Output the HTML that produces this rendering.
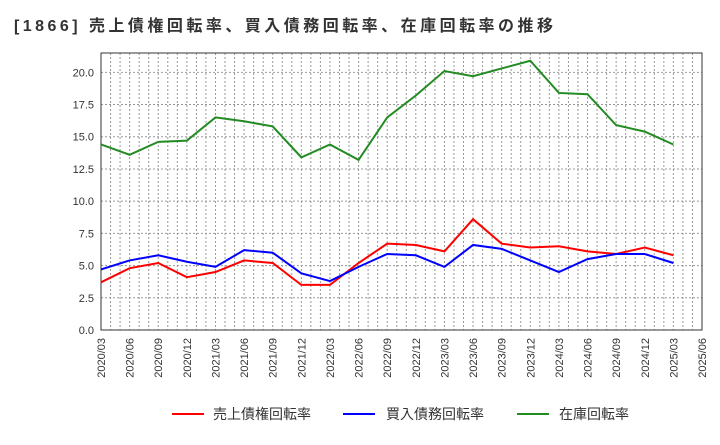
<!DOCTYPE html>
<html><head><meta charset="utf-8"><style>
body{margin:0;background:#fff;font-family:"Liberation Sans","Noto Sans CJK JP",sans-serif}
</style></head><body>
<svg id="c" width="720" height="440" xmlns="http://www.w3.org/2000/svg">
<text x="14" y="31" font-size="16" font-weight="bold" fill="#333" textLength="539" lengthAdjust="spacing" font-family="Liberation Sans, Noto Sans CJK JP, sans-serif">[1866]  売上債権回転率、買入債務回転率、在庫回転率の推移</text>
<g id="grid"></g><g id="axes"></g><g id="lines"></g>
<g id="legend" font-size="14" fill="#333" font-family="Liberation Sans, Noto Sans CJK JP, sans-serif">
<g><line x1="172" y1="414" x2="204" y2="414" stroke="#ff0000" stroke-width="2"/><text x="213" y="419">売上債権回転率</text></g>
<g><line x1="343" y1="414" x2="375" y2="414" stroke="#0000ff" stroke-width="2"/><text x="386" y="419">買入債務回転率</text></g>
<g><line x1="517" y1="414" x2="549" y2="414" stroke="#228b22" stroke-width="2"/><text x="559" y="419">在庫回転率</text></g>
</g>
</svg>
<script>
const categories=["2020/03","2020/06","2020/09","2020/12","2021/03","2021/06","2021/09","2021/12","2022/03","2022/06","2022/09","2022/12","2023/03","2023/06","2023/09","2023/12","2024/03","2024/06","2024/09","2024/12","2025/03","2025/06"];
const receivables=[3.7,4.8,5.2,4.1,4.5,5.4,5.2,3.5,3.5,5.2,6.7,6.6,6.1,8.6,6.7,6.4,6.5,6.1,5.9,6.4,5.8];
const payables=[4.7,5.4,5.8,5.3,4.9,6.2,6.0,4.4,3.8,4.9,5.9,5.8,4.9,6.6,6.3,5.4,4.5,5.5,5.9,5.9,5.2];
const inventory=[14.4,13.6,14.6,14.7,16.5,16.2,15.8,13.4,14.4,13.2,16.5,18.2,20.1,19.7,20.3,20.9,18.4,18.3,15.9,15.4,14.4];
const yTicks=[0,2.5,5,7.5,10,12.5,15,17.5,20];
const L=101,R=702,T=53,B=330,YMAX=21.5;
const xs=i=>L+(R-L)*i/(categories.length-1);
const ys=v=>B-(B-T)*v/YMAX;
const NS="http://www.w3.org/2000/svg";
function mk(t,a,p){const e=document.createElementNS(NS,t);for(const k in a)e.setAttribute(k,a[k]);p.appendChild(e);return e;}
const grid=document.getElementById('grid'),axes=document.getElementById('axes'),lines=document.getElementById('lines');
for(let m=1;m<(categories.length-1)*3;m++){const x=L+(R-L)*m/((categories.length-1)*3);
 const g=mk('line',{x1:x,x2:x,y1:T,y2:B,stroke:'#999','stroke-dasharray':'2,2','stroke-width':1},grid);
 }
yTicks.forEach(v=>{const y=ys(v);
 if(v>0){const g=mk('line',{x1:L,x2:R,y1:y,y2:y,stroke:'#999','stroke-dasharray':'2,2'},grid);
 }
 const t=mk('text',{x:L-7,y:y+4,'text-anchor':'end','font-size':11,fill:'#333'},axes);t.textContent=v.toFixed(1);
 });
categories.forEach((c,i)=>{const x=xs(i);
 const t=mk('text',{x:x+4,y:B+8,'text-anchor':'end','font-size':11,fill:'#333',transform:`rotate(-90 ${x+4} ${B+8})`},axes);t.textContent=c;
 });
const box=mk('rect',{x:L,y:T,width:R-L,height:B-T,fill:'none',stroke:'#333','stroke-width':1},axes);

[[receivables,'#ff0000','receivables-line'],[payables,'#0000ff','payables-line'],[inventory,'#228b22','inventory-line']].forEach(([d,c,n])=>{
 const p=mk('polyline',{points:d.map((v,i)=>xs(i)+','+ys(v)).join(' '),fill:'none',stroke:c,'stroke-width':2},lines);
 });
</script>
</body></html>
